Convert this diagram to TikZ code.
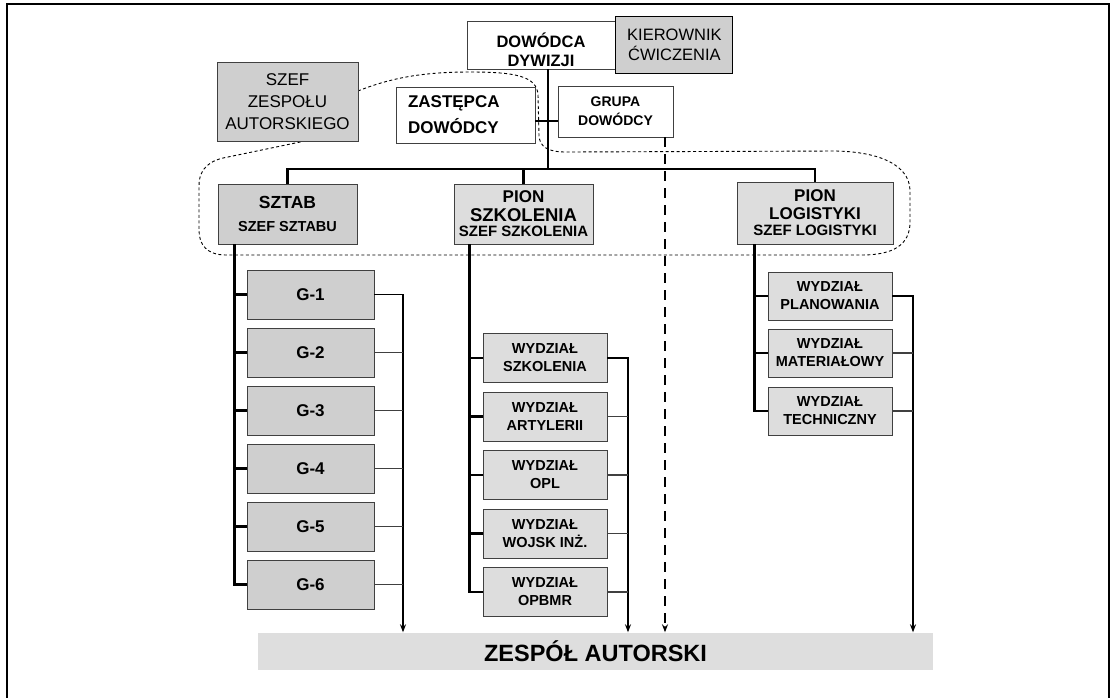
\documentclass[tikz,border=0pt]{standalone}
\usepackage{fontspec}
\setmainfont{Liberation Sans}
\usetikzlibrary{positioning,arrows.meta}

\tikzset{
  box/.style={draw=black!75, line width=0.9pt, inner sep=0pt, align=center},
  wbox/.style={box, fill=white},
  dbox/.style={box, fill=gray!38},
  lbox/.style={box, fill=gray!27},
  gnode/.style={dbox, minimum width=127, minimum height=49, font=\bfseries\fontsize{17}{19}\selectfont},
  wydz/.style={lbox, minimum width=124, minimum height=49, font=\bfseries\fontsize{14.5}{18}\selectfont},
  spine/.style={line width=2.4pt},
  coll/.style={line width=1.8pt},
  stub/.style={line width=1.2pt, black!75},
  arr/.style={-{Stealth[length=8pt,width=6pt]}},
  grp/.style={dash pattern=on 3pt off 2.5pt, line width=0.9pt}
}

\begin{document}
\begin{tikzpicture}[x=1pt,y=-1pt]
    \useasboundingbox (0,0) rectangle (1116,697);
    % Frame of the figure
    \draw[line width=2pt] (7,702) -- (7,4) -- (1109,4) -- (1109,702);

    % Group outline (dashed)
    \draw[grp] (358,91) .. controls (395,76) and (430,72) .. (470,72)
        .. controls (515,72) and (537,76) .. (538,95)
        -- (539,136) .. controls (540,147) and (548,152) .. (566,152)
        -- (836,151) .. controls (880,152) and (909,165) .. (910,190)
        -- (910,222) .. controls (910,245) and (893,255) .. (862,255)
        -- (226,255) .. controls (207,255) and (199,245) .. (199,230)
        -- (199,186) .. controls (199,168) and (210,160) .. (228,157)
        -- (305,141);

    % Command
    \node[wbox, minimum width=148, minimum height=48,
        font=\bfseries\fontsize{16.5}{19}\selectfont] (dd) at (541,45)
        {\rule{0pt}{24pt}DOWÓDCA\\DYWIZJI};
    \node[dbox, draw=black, minimum width=117, minimum height=57,
        font=\fontsize{16.5}{19.5}\selectfont, right=0pt of dd] (kier)
        {KIEROWNIK\\ĆWICZENIA};
    \node[dbox, minimum width=141, minimum height=79,
        font=\fontsize{17}{22}\selectfont] (szef) at (287.5,101.5)
        {SZEF\\ZESPOŁU\\AUTORSKIEGO};
    \node[wbox, minimum width=139, minimum height=56, text width=115, align=left,
        font=\bfseries\fontsize{17}{26}\selectfont] (zast) at (465.5,115)
        {ZASTĘPCA\\DOWÓDCY};
    \node[wbox, minimum width=115, minimum height=51,
        font=\bfseries\fontsize{14}{19}\selectfont] (grupa) at (615.5,111.5)
        {GRUPA\\DOWÓDCY};

    % Main line and bus
    \coordinate (bus) at (548,169);
    \coordinate (zg) at (548,121);
    \draw[spine] (dd.south -| bus) -- (bus);
    \draw[spine] (zast.east |- zg) -- (grupa.west |- zg);

    % Second level
    \node[dbox, minimum width=139, minimum height=60,
        font=\bfseries\fontsize{17.5}{19}\selectfont] (sztab) at (287.5,214)
        {SZTAB\\[4pt]{\fontsize{14.5}{16}\selectfont SZEF SZTABU}};
    \node[lbox, minimum width=139, minimum height=60,
        font=\bfseries\fontsize{17}{18}\selectfont] (szk) at (523.5,214)
        {PION\\[1pt]{\fontsize{18.5}{18}\selectfont SZKOLENIA}\\[-3pt]{\fontsize{15}{16}\selectfont SZEF SZKOLENIA}};
    \node[lbox, minimum width=156, minimum height=62,
        font=\bfseries\fontsize{17}{18}\selectfont] (logi) at (815,213)
        {PION\\LOGISTYKI\\[-2pt]{\fontsize{15}{16}\selectfont SZEF LOGISTYKI}};

    \draw[spine] (sztab.north) -- (sztab.north |- bus) -- (logi.north |- bus) -- (logi.north);
    \draw[spine] (szk.north) -- (szk.north |- bus);

    % Bottom bar
    \node[fill=gray!26, inner sep=0pt, minimum width=675, minimum height=37,
        font=\bfseries\fontsize{23.5}{26}\selectfont] (bar) at (595.5,651) {ZESPÓŁ AUTORSKI};

    % Sztab: G-1 ... G-6
    \node[gnode] (g1) at (310.5,294.5) {G-1};
    \node[gnode] (g2) at (310.5,352.5) {G-2};
    \node[gnode] (g3) at (310.5,410.5) {G-3};
    \node[gnode] (g4) at (310.5,468.5) {G-4};
    \node[gnode] (g5) at (310.5,526.5) {G-5};
    \node[gnode] (g6) at (310.5,584.5) {G-6};
    \coordinate (sL) at ([xshift=17]sztab.south west);
    \coordinate (sR) at (403,0);
    \draw[spine] (sL) |- (g6.west);
    \draw[spine] (g1.west) -- (g1.west -| sL) (g2.west) -- (g2.west -| sL)
        (g3.west) -- (g3.west -| sL) (g4.west) -- (g4.west -| sL)
        (g5.west) -- (g5.west -| sL);
    \draw[coll, arr] (g1.east) -| (sR |- bar.north);
    \draw[stub] (g2.east) -- (g2.east -| sR) (g3.east) -- (g3.east -| sR)
        (g4.east) -- (g4.east -| sR) (g5.east) -- (g5.east -| sR)
        (g6.east) -- (g6.east -| sR);

    % Pion szkolenia
    \node[wydz] (w1) at (545,358) {WYDZIAŁ\\SZKOLENIA};
    \node[wydz] (w2) at (545,416.5) {WYDZIAŁ\\ARTYLERII};
    \node[wydz] (w3) at (545,475) {WYDZIAŁ\\OPL};
    \node[wydz] (w4) at (545,533.5) {WYDZIAŁ\\WOJSK INŻ.};
    \node[wydz] (w5) at (545,592) {WYDZIAŁ\\OPBMR};
    \coordinate (pL) at ([xshift=16]szk.south west);
    \coordinate (pR) at (628,0);
    \draw[spine] (pL) |- (w5.west);
    \draw[spine] (w1.west) -- (w1.west -| pL) (w2.west) -- (w2.west -| pL)
        (w3.west) -- (w3.west -| pL) (w4.west) -- (w4.west -| pL);
    \draw[coll, arr] (w1.east) -| (pR |- bar.north);
    \draw[stub] (w2.east) -- (w2.east -| pR) (w3.east) -- (w3.east -| pR)
        (w4.east) -- (w4.east -| pR) (w5.east) -- (w5.east -| pR);

    % Pion logistyki
    \node[wydz, minimum height=48] (l1) at (830,296) {WYDZIAŁ\\PLANOWANIA};
    \node[wydz, minimum height=48] (l2) at (830,353) {WYDZIAŁ\\MATERIAŁOWY};
    \node[wydz, minimum height=48] (l3) at (830,411) {WYDZIAŁ\\TECHNICZNY};
    \coordinate (lL) at ([xshift=18]logi.south west);
    \coordinate (lR) at (913,0);
    \draw[spine] (lL) |- (l3.west);
    \draw[spine] (l1.west) -- (l1.west -| lL) (l2.west) -- (l2.west -| lL);
    \draw[coll, arr] (l1.east) -| (lR |- bar.north);
    \draw[stub] (l2.east) -- (l2.east -| lR) (l3.east) -- (l3.east -| lR);

    % Grupa dowodcy to the team (dashed)
    \coordinate (dsh) at (665,0);
    \draw[line width=2pt, dash pattern=on 10pt off 7pt, arr]
        (grupa.south -| dsh) -- (dsh |- bar.north);
\end{tikzpicture}
\end{document}
